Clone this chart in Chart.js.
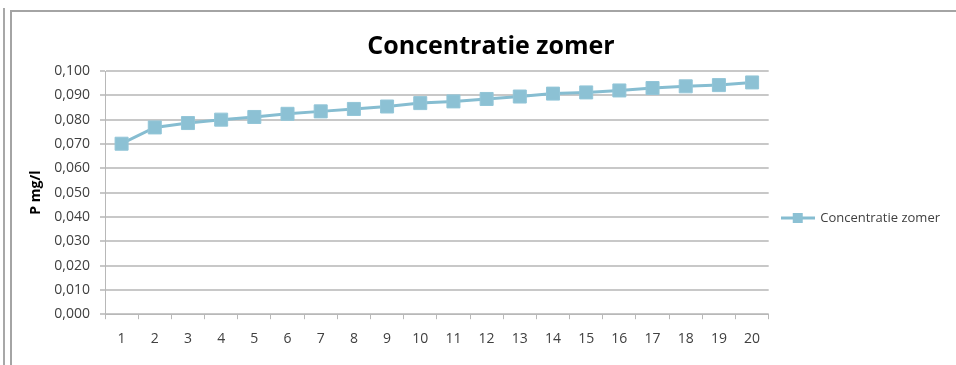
<!DOCTYPE html>
<html>
<head>
<meta charset="utf-8">
<script src="https://cdn.jsdelivr.net/npm/chart.js@4"></script>
<style>
  html, body { margin: 0; padding: 0; background: #fff; }
  body { width: 956px; height: 365px; overflow: hidden; position: relative; }
  .edge { position: absolute; left: 3px; top: 8px; width: 2px; height: 400px; background: #a8a8a8; }
  .frame { position: absolute; left: 10px; top: 10px; width: 1000px; height: 400px;
           border-left: 2px solid #a4a4a4; border-top: 2px solid #a4a4a4; }
  #wrap { position: absolute; left: 0; top: 0; width: 982px; height: 365px; }
</style>
</head>
<body>
<div class="edge"></div>
<div class="frame"></div>
<div id="wrap"><canvas id="c"></canvas></div>
<script>
// Summer concentration of P (mg/l) per measurement 1..20
const categories = ['1','2','3','4','5','6','7','8','9','10','11','12','13','14','15','16','17','18','19','20'];
const concentratieZomer = [0.0701, 0.0768, 0.0786, 0.0800, 0.0811, 0.0824, 0.0834, 0.0844, 0.0854, 0.0868,
                           0.0875, 0.0885, 0.0895, 0.0907, 0.0912, 0.0920, 0.0930, 0.0937, 0.0942, 0.0953];
const seriesName = 'Concentratie zomer';
const chartTitle = 'Concentratie zomer';
const yAxisTitle = 'P mg/l';

const lineColor = '#86bdd1';
const markerColor = '#8cc1d4';
const textColor = '#404040';
const gridColor = '#c8c8c8';
const fontFamily = "'Open Sans', 'Liberation Sans', sans-serif";

// legend symbol: short line with a square marker on it
const legendSymbol = document.createElement('canvas');
legendSymbol.width = 34; legendSymbol.height = 12;
(function () {
  const g = legendSymbol.getContext('2d');
  g.strokeStyle = lineColor; g.lineWidth = 3;
  g.beginPath(); g.moveTo(0, 6); g.lineTo(34, 6); g.stroke();
  g.fillStyle = markerColor; g.fillRect(12, 1, 10, 10);
})();

// centre the title over the whole frame and drop the legend a little below the plot's middle
const blockOffsets = {
  id: 'blockOffsets',
  afterLayout(chart) {
    const lg = chart.legend;
    if (lg) { lg.top += 39; lg.bottom += 39; }
    const tb = chart.titleBlock;
    if (tb) { tb.left += 32; }
  }
};

const fmt = v => v.toFixed(3).replace('.', ',');

new Chart(document.getElementById('c'), {
  type: 'line',
  data: {
    labels: categories,
    datasets: [{
      label: seriesName,
      data: concentratieZomer,
      borderColor: lineColor,
      borderWidth: 3,
      backgroundColor: markerColor,
      pointStyle: 'rect',
      pointRadius: 9.2,
      pointBorderWidth: 1,
      pointBorderColor: '#93c6d8',
      pointBackgroundColor: markerColor,
      tension: 0,
      fill: false
    }]
  },
  plugins: [blockOffsets],
  options: {
    responsive: true,
    maintainAspectRatio: false,
    animation: false,
    events: [],
    layout: { padding: { left: 0, right: 32, top: 0, bottom: 7 } },
    plugins: {
      tooltip: { enabled: false },
      title: {
        display: true,
        text: chartTitle,
        color: '#000',
        font: { family: fontFamily, size: 25, weight: 'bold' },
        padding: { top: 32, bottom: 9 }
      },
      legend: {
        display: true,
        position: 'right',
        labels: {
          color: textColor,
          font: { family: fontFamily, size: 13 },
          usePointStyle: true,
          pointStyleWidth: 32,
          padding: 13,
          generateLabels: chart => chart.data.datasets.map((ds, i) => ({
            text: ds.label,
            pointStyle: legendSymbol,
            fontColor: textColor,
            lineWidth: 0,
            hidden: false,
            datasetIndex: i
          }))
        }
      }
    },
    scales: {
      x: {
        offset: true,
        grid: { offset: true, drawOnChartArea: false, drawTicks: true, tickLength: 5, color: '#b8b8b8', lineWidth: 1 },
        border: { display: true, color: '#b8b8b8', width: 1 },
        ticks: { color: textColor, font: { family: fontFamily, size: 14 }, padding: 11, maxRotation: 0, autoSkip: false }
      },
      y: {
        min: 0,
        max: 0.1,
        afterFit: s => { s.width = 105; },
        grid: { color: gridColor, lineWidth: 2, tickLength: 5 },
        border: { display: true, color: '#b8b8b8', width: 1 },
        ticks: {
          stepSize: 0.01,
          color: textColor,
          font: { family: fontFamily, size: 14 },
          padding: 10,
          callback: v => fmt(v)
        },
        title: {
          display: true,
          text: yAxisTitle,
          color: '#000',
          font: { family: fontFamily, size: 14, weight: 'bold' },
          padding: { top: 28, bottom: 0 }
        }
      }
    }
  }
});
</script>
</body>
</html>
